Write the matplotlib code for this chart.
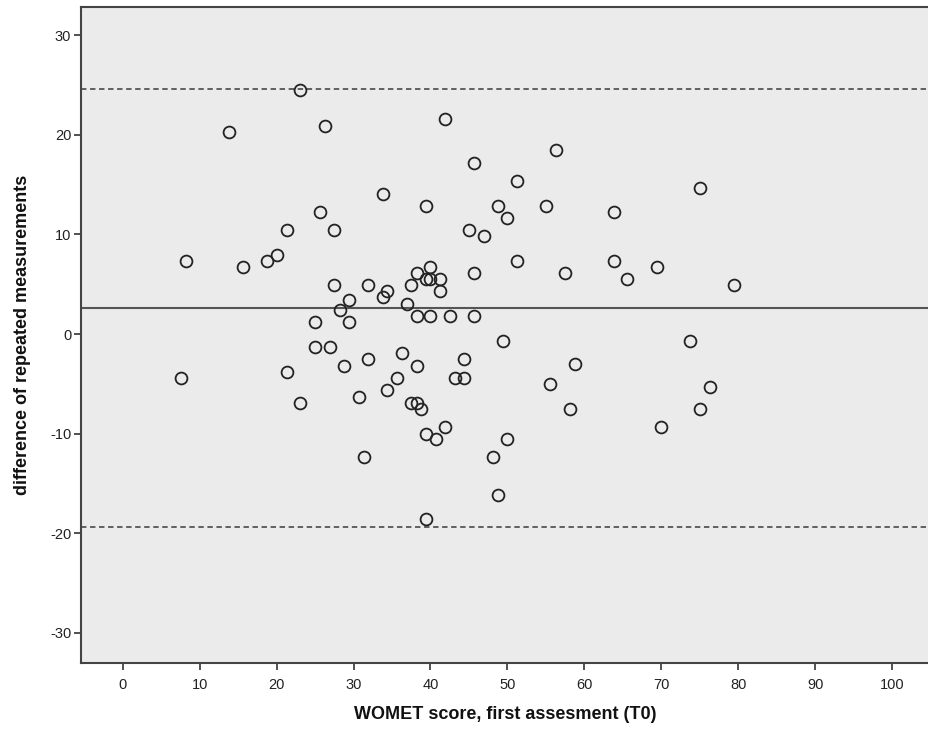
import matplotlib
matplotlib.use("Agg")
import matplotlib.pyplot as plt

# WOMET score at T0 (x) and difference of repeated measurements (y)
womet_t0 = [
    23.1, 13.8, 26.3, 33.8, 25.6, 21.3, 27.5, 8.2, 15.6, 18.8, 20.1, 27.5, 31.9,
    33.8, 34.4, 29.4, 28.2, 25.0, 29.4, 41.9, 56.3, 45.7, 51.3, 39.4, 48.8, 55.0,
    50.0, 63.8, 45.0, 46.9, 51.3, 63.8, 69.4, 45.7, 57.5, 65.6, 40.0, 38.2, 39.4,
    40.0, 41.3, 41.3, 37.5, 36.9, 38.2, 40.0, 42.5, 45.7, 75.0, 79.4,
    7.6, 21.3, 23.1, 25.0, 26.9, 28.8, 31.9, 30.7, 31.3, 49.4, 36.3, 38.2, 35.7,
    34.4, 44.4, 43.2, 44.4, 37.5, 38.2, 38.8, 39.4, 40.7, 41.9, 50.0, 48.1, 48.8,
    39.4, 55.6, 58.8, 58.1, 70.0, 73.7, 76.3, 75.0,
]
difference = [
    24.5, 20.3, 20.9, 14.1, 12.3, 10.5, 10.5, 7.3, 6.7, 7.3, 7.9, 4.9, 4.9,
    3.7, 4.3, 3.4, 2.4, 1.2, 1.2, 21.6, 18.5, 17.2, 15.4, 12.9, 12.9, 12.9,
    11.7, 12.3, 10.5, 9.8, 7.3, 7.3, 6.7, 6.1, 6.1, 5.5, 6.7, 6.1, 5.5,
    5.5, 5.5, 4.3, 4.9, 3.0, 1.8, 1.8, 1.8, 1.8, 14.7, 4.9,
    -4.4, -3.8, -6.9, -1.3, -1.3, -3.2, -2.5, -6.3, -12.4, -0.7, -1.9, -3.2, -4.4,
    -5.6, -2.5, -4.4, -4.4, -6.9, -6.9, -7.5, -10.0, -10.6, -9.3, -10.6, -12.4, -16.2,
    -18.6, -5.0, -3.0, -7.5, -9.3, -0.7, -5.3, -7.5,
]

mean_diff = 2.63
upper_loa = 24.6
lower_loa = -19.35

x_ticks = [0, 10, 20, 30, 40, 50, 60, 70, 80, 90, 100]
y_ticks = [-30, -20, -10, 0, 10, 20, 30]

plt.rcParams['font.family'] = ['Liberation Sans', 'DejaVu Sans']
plt.rcParams['axes.unicode_minus'] = False

fig = plt.figure(figsize=(9.29, 7.33), dpi=100)
ax = fig.add_axes([81 / 929, 70.3 / 733, 1 - 81 / 929, (662.7 - 7) / 733])
ax.set_facecolor('#ebebeb')

ax.axhline(upper_loa, color='#555555', lw=1.3, ls=(0, (3, 2)))
ax.axhline(lower_loa, color='#555555', lw=1.3, ls=(0, (3, 2)))
ax.axhline(mean_diff, color='#555555', lw=1.5)

ax.plot(womet_t0, difference, ls='none', marker='o', markersize=8.5,
        markerfacecolor='none', markeredgecolor='#222222', markeredgewidth=1.3)

ax.set_xlim(-5.42, 104.8)
ax.set_ylim(-33.03, 32.86)
ax.set_xticks(x_ticks)
ax.set_yticks(y_ticks)
ax.tick_params(axis='both', direction='out', length=5, width=1.2,
               colors='#333333', labelsize=10.5, labelcolor='#222222')
ax.tick_params(axis='x', pad=6)
ax.tick_params(axis='y', pad=2)

for side in ['left', 'bottom', 'top']:
    ax.spines[side].set_color('#444444')
    ax.spines[side].set_linewidth(1.5)
ax.spines['right'].set_visible(False)

ax.set_xlabel('WOMET score, first assesment (T0)', fontsize=13, fontweight='bold',
              color='#111111', labelpad=10)
ax.set_ylabel('difference of repeated measurements', fontsize=13, fontweight='bold',
              color='#111111', labelpad=14)

fig.savefig('out.png', dpi=100)
